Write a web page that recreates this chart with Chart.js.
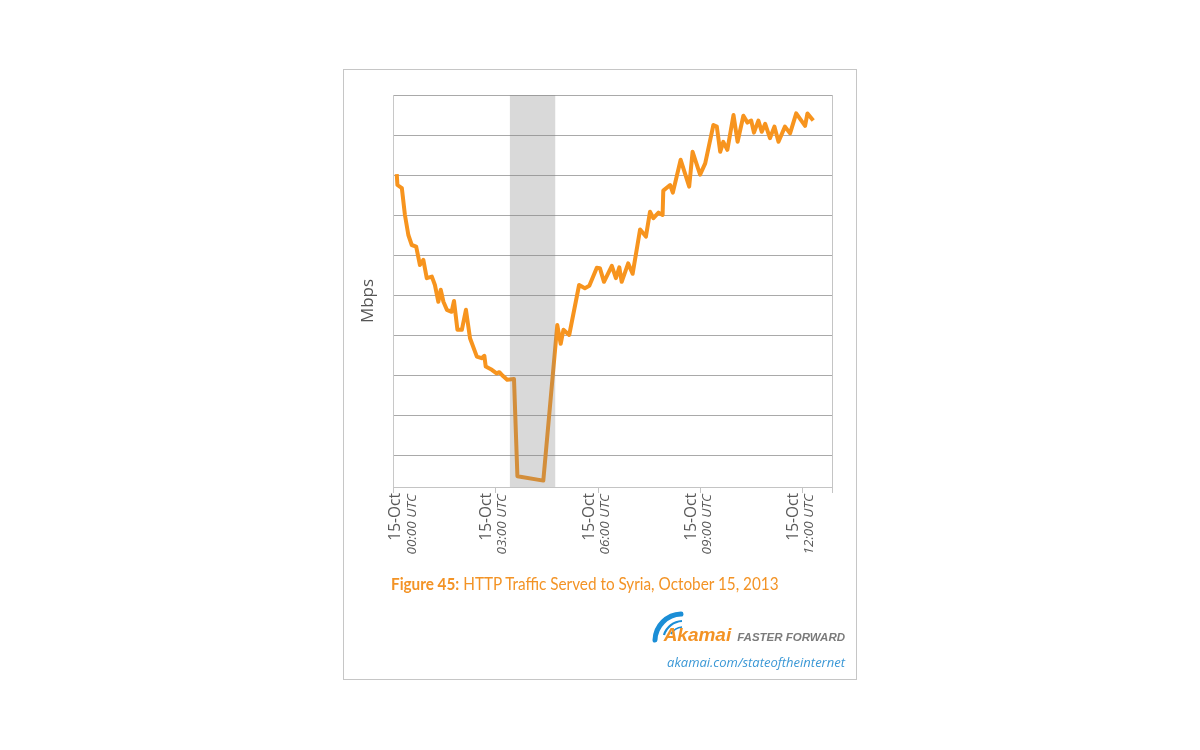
<!DOCTYPE html>
<html>
<head>
<meta charset="utf-8">
<script src="https://cdn.jsdelivr.net/npm/chart.js@4.4.0/dist/chart.umd.min.js"></script>
<style>
    html, body { margin: 0; padding: 0; background: #fff; }
    #frame { position: absolute; left: 343px; top: 69px; width: 514px; height: 611px; border: 1px solid #c6c6c6; box-sizing: border-box; }
    #chart { position: absolute; left: 0; top: 0; }
    #caption { position: absolute; left: 391px; top: 573px; font-family: Lato, sans-serif; font-size: 17px; color: #f39325; white-space: nowrap; transform: scaleX(0.9); transform-origin: left center; }
    #caption b { font-weight: bold; }
    #brand { position: absolute; right: 355px; top: 624px; font-family: "Liberation Sans", Arial, sans-serif; font-style: italic; font-weight: bold; white-space: nowrap; }
    #brand .ak { color: #f39325; font-size: 19px; margin-right: 6px; }
    #brand .ff { color: #7b7b7b; font-size: 11.5px; }
    #swoosh { position: absolute; left: 649px; top: 611px; }
    #url { position: absolute; right: 355px; top: 653px; font-family: "Open Sans", sans-serif; font-style: italic; font-size: 13px; color: #3b98d6; white-space: nowrap; }
</style>
</head>
<body>
<div id="frame"></div>
<canvas id="chart" width="1200" height="750"></canvas>
<div id="caption"><b>Figure 45:</b> HTTP Traffic Served to Syria, October 15, 2013</div>
<svg id="swoosh" width="36" height="32" viewBox="0 0 36 32">
    <path d="M 32 3 A 27 27 0 0 0 6 29" stroke="#1b8ed6" stroke-width="5" fill="none" stroke-linecap="round"/>
    <path d="M 33 10 A 20 20 0 0 0 15 24" stroke="#1b8ed6" stroke-width="2.2" fill="none"/>
    <path d="M 33 16 A 14 14 0 0 0 22 23" stroke="#1b8ed6" stroke-width="1.6" fill="none"/>
</svg>
<div id="brand"><span class="ak">Akamai</span><span class="ff">FASTER FORWARD</span></div>
<div id="url">akamai.com/stateoftheinternet</div>

<script>
// hours after 00:00 UTC, 15 Oct 2013
var hours = [0.11, 0.13, 0.26, 0.35, 0.45, 0.55, 0.68, 0.79, 0.89, 0.99,
    1.14, 1.23, 1.33, 1.40, 1.48, 1.58, 1.72, 1.79, 1.89, 2.02,
    2.14, 2.26, 2.46, 2.60, 2.68, 2.72, 2.90, 3.04, 3.12, 3.22,
    3.35, 3.55, 3.65, 4.41, 4.82, 4.92, 5.00, 5.17, 5.46, 5.63,
    5.76, 5.98, 6.07, 6.19, 6.42, 6.54, 6.64, 6.71, 6.90, 7.03,
    7.25, 7.42, 7.54, 7.64, 7.79, 7.91, 7.93, 8.13, 8.21, 8.44,
    8.69, 8.79, 9.01, 9.16, 9.40, 9.50, 9.60, 9.69, 9.81, 9.99,
    10.11, 10.28, 10.40, 10.51, 10.59, 10.72, 10.82, 10.92, 11.06, 11.19,
    11.31, 11.50, 11.65, 11.83, 12.09, 12.16, 12.33];
// traffic in grid units (axis carries no numbers)
var traffic = [7.02, 6.75, 6.67, 6.00, 5.50, 5.25, 5.21, 4.75, 4.88, 4.42,
    4.46, 4.25, 3.83, 4.13, 3.83, 3.63, 3.58, 3.85, 3.13, 3.13,
    3.63, 2.92, 2.46, 2.42, 2.48, 2.21, 2.13, 2.04, 2.07, 1.98,
    1.88, 1.90, -0.53, -0.64, 3.25, 2.78, 3.13, 3.00, 4.25, 4.17,
    4.23, 4.68, 4.67, 4.33, 4.73, 4.42, 4.69, 4.33, 4.79, 4.53,
    5.64, 5.46, 6.08, 5.92, 6.06, 6.00, 6.61, 6.75, 6.56, 7.38,
    6.71, 7.58, 7.01, 7.29, 8.25, 8.21, 7.58, 7.83, 7.63, 8.50,
    7.83, 8.48, 8.31, 8.36, 8.06, 8.36, 8.08, 8.28, 7.92, 8.21,
    7.83, 8.21, 8.04, 8.54, 8.23, 8.54, 8.36];

var xTickHours = [0, 3, 6, 9, 12];
var xTickDates = ['15-Oct', '15-Oct', '15-Oct', '15-Oct', '15-Oct'];
var xTickTimes = ['00:00 UTC', '03:00 UTC', '06:00 UTC', '09:00 UTC', '12:00 UTC'];
var yGridValues = [0, 1, 2, 3, 4, 5, 6, 7, 8, 9];
var outageStart = 3.43;
var outageEnd = 4.76;

var points = hours.map(function (h, i) { return {x: h, y: traffic[i]}; });

var overlay = {
    id: 'overlay',
    afterDatasetsDraw: function (chart) {
        var ctx = chart.ctx, area = chart.chartArea, xs = chart.scales.x;
        var x0 = xs.getPixelForValue(outageStart), x1 = xs.getPixelForValue(outageEnd);
        ctx.save();
        ctx.fillStyle = 'rgba(130,130,130,0.3)';
        ctx.fillRect(x0, area.top, x1 - x0, area.bottom - area.top);
        ctx.restore();
    },
    afterDraw: function (chart) {
        var ctx = chart.ctx, area = chart.chartArea, xs = chart.scales.x;
        ctx.save();
        // right border
        ctx.strokeStyle = '#c4c4c4';
        ctx.lineWidth = 1;
        ctx.beginPath();
        ctx.moveTo(area.right + 0.5, area.top);
        ctx.lineTo(area.right + 0.5, area.bottom + 6);
        ctx.stroke();
        // tick marks + labels
        xTickHours.forEach(function (h, i) {
            var px = Math.round(xs.getPixelForValue(h)) + 0.5;
            ctx.beginPath();
            ctx.moveTo(px, area.bottom);
            ctx.lineTo(px, area.bottom + 6);
            ctx.stroke();
            var cx = Math.max(px - 9, area.left + 3);
            ctx.save();
            ctx.translate(cx, area.bottom + 6);
            ctx.rotate(-Math.PI / 2);
            ctx.textAlign = 'right';
            ctx.textBaseline = 'middle';
            ctx.fillStyle = '#5a5a5a';
            ctx.font = '15.5px "Open Sans"';
            ctx.fillText(xTickDates[i], 0, 0);
            ctx.font = 'italic 13.5px "Open Sans"';
            ctx.fillText(xTickTimes[i], -1, 16);
            ctx.restore();
        });
        // y title
        ctx.save();
        ctx.translate(368, (area.top + area.bottom) / 2 + 10);
        ctx.rotate(-Math.PI / 2);
        ctx.textAlign = 'center';
        ctx.textBaseline = 'middle';
        ctx.fillStyle = '#555';
        ctx.font = '17px "Open Sans"';
        ctx.fillText('Mbps', 0, 0);
        ctx.restore();
        ctx.restore();
    }
};

new Chart(document.getElementById('chart'), {
    type: 'line',
    data: {
        datasets: [{
            data: points,
            borderColor: '#f7941e',
            borderWidth: 4,
            pointRadius: 0,
            tension: 0,
            borderJoinStyle: 'round',
            fill: false
        }]
    },
    options: {
        responsive: false,
        animation: false,
        layout: {padding: {left: 393, top: 95, right: 368, bottom: 263}},
        plugins: {legend: {display: false}, tooltip: {enabled: false}},
        scales: {
            x: {
                type: 'linear',
                min: 0,
                max: 12.88,
                afterBuildTicks: function (s) { s.ticks = xTickHours.map(function (v) { return {value: v}; }); },
                grid: {display: false, drawTicks: false},
                border: {display: true, color: '#c4c4c4'},
                ticks: {display: false}
            },
            y: {
                min: -0.8,
                max: 9,
                afterBuildTicks: function (s) { s.ticks = yGridValues.map(function (v) { return {value: v}; }); },
                grid: {color: '#a9a9a9', drawTicks: false},
                border: {display: true, color: '#c8c8c8'},
                ticks: {display: false}
            }
        }
    },
    plugins: [overlay]
});
</script>
</body>
</html>
